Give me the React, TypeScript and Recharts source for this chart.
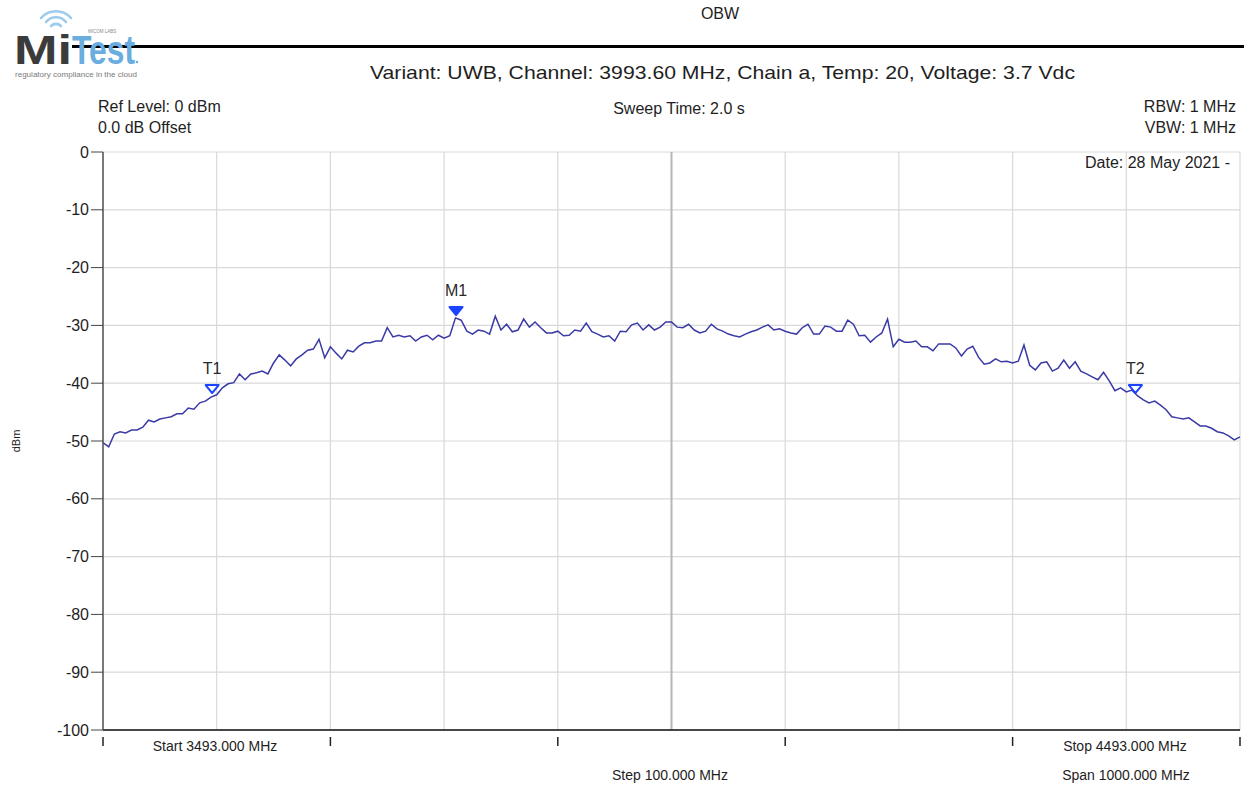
import { LineChart, Line, XAxis, YAxis, CartesianGrid, ReferenceLine, ReferenceDot } from 'recharts';

// sweep: 3493 MHz .. 4493 MHz, one reading every 5 MHz
const START_MHZ = 3493;
const STEP_MHZ = 5;

const LEVELS = [
  -50.3, -51.0, -48.8, -48.4, -48.6, -48.1, -48.1, -47.6, -46.4, -46.7,
  -46.2, -46.0, -45.8, -45.3, -45.3, -44.3, -44.5, -43.4, -43.1, -42.4,
  -42.0, -40.8, -40.1, -39.9, -38.4, -39.4, -38.4, -38.2, -37.9, -38.4,
  -36.5, -35.1, -36.0, -37.0, -35.8, -35.1, -34.3, -34.1, -32.4, -35.6,
  -33.7, -34.8, -35.8, -34.3, -34.6, -33.6, -33.0, -33.0, -32.7, -32.7,
  -30.4, -32.0, -31.7, -32.0, -31.8, -32.7, -32.0, -31.7, -32.5, -31.7,
  -32.2, -31.8, -28.7, -29.1, -31.0, -31.5, -30.8, -31.0, -31.5, -28.4,
  -30.8, -29.8, -31.1, -30.8, -28.9, -30.3, -29.4, -30.4, -31.3, -31.3,
  -31.0, -31.8, -31.7, -30.8, -31.0, -29.6, -31.1, -31.5, -32.0, -31.8,
  -32.7, -31.0, -31.1, -29.9, -29.6, -30.8, -29.9, -30.8, -30.3, -29.4,
  -29.4, -30.3, -30.4, -29.8, -30.8, -31.3, -31.0, -29.8, -30.6, -31.0,
  -31.5, -31.8, -32.0, -31.5, -31.1, -30.8, -30.3, -29.9, -30.8, -30.6,
  -31.0, -31.3, -31.5, -30.4, -29.8, -31.5, -31.5, -30.1, -30.3, -31.0,
  -31.0, -29.1, -29.8, -31.8, -31.7, -32.9, -32.0, -31.3, -28.9, -33.7,
  -32.4, -32.9, -32.9, -32.7, -33.7, -33.7, -34.4, -33.2, -33.2, -33.2,
  -33.9, -35.3, -34.1, -33.6, -35.5, -36.7, -36.5, -35.8, -36.3, -36.2,
  -36.5, -36.2, -33.4, -36.9, -37.7, -36.5, -36.3, -37.9, -37.4, -36.0,
  -37.4, -36.3, -37.9, -38.4, -38.9, -39.4, -38.1, -39.6, -41.3, -40.8,
  -41.5, -41.2, -42.2, -42.9, -43.4, -43.1, -43.8, -44.6, -45.8, -46.0,
  -46.2, -46.0, -46.7, -47.4, -47.4, -47.8, -48.4, -48.6, -49.1, -49.8,
  -49.3,
];

const GRID_FREQS = [3493, 3593, 3693, 3793, 3893, 3993, 4093, 4193, 4293, 4393, 4493];
const MAJOR_FREQS = [3493, 3693, 3893, 4093, 4293, 4493];
const Y_TICKS = [0, -10, -20, -30, -40, -50, -60, -70, -80, -90, -100];

const MARKER_NAMES = ['T1', 'M1', 'T2'];
const MARKER_FREQS = [3589, 3803.5, 4401];
const MARKER_LEVELS = [-41.7, -28.2, -41.7];
const MARKER_FILLED = [false, true, false];

const FONT = '"Liberation Sans", Arial, sans-serif';
const TRACE = '#3a3aa6';
const MARKER_BLUE = '#1a44ff';

const data = LEVELS.map((v, i) => ({ f: START_MHZ + i * STEP_MHZ, v }));

const XTick = (props: any) => {
  const { x, y, payload } = props;
  if (!MAJOR_FREQS.includes(payload.value)) return <g />;
  return <line x1={x} x2={x} y1={y - 1} y2={y + 8} stroke="#222" strokeWidth={1.5} />;
};

const markerShape = (name: string, filled: boolean) => (props: any) => {
  const { cx, cy } = props;
  if (cx === undefined || cy === undefined) return <g />;
  const w = 6.5;
  const h = 8;
  return (
    <g>
      <path
        d={`M${cx - w},${cy - h} L${cx + w},${cy - h} L${cx},${cy} Z`}
        fill={filled ? MARKER_BLUE : '#fff'}
        stroke={MARKER_BLUE}
        strokeWidth={2}
        strokeLinejoin="round"
      />
      <text x={cx} y={cy - h - 11} textAnchor="middle" fontFamily={FONT} fontSize={16} fill="#2a2a2a">
        {name}
      </text>
    </g>
  );
};

function Logo() {
  return (
    <g>
      <g fill="none" stroke="#9ccbec" strokeWidth={2.6} strokeLinecap="round">
        <path d="M51,26 A7,7 0 0 1 61,26" />
        <path d="M46,22 A13,13 0 0 1 66,22" />
        <path d="M41,18 A20,20 0 0 1 71,18" />
      </g>
      <text x={14} y={64} fontFamily={FONT} fontWeight="bold" fontSize={40} fill="#3b3b3b" textLength={58} lengthAdjust="spacingAndGlyphs">
        Mi
      </text>
      <text x={72} y={64} fontFamily={FONT} fontWeight="bold" fontSize={40} fill="#6aaedf" textLength={63} lengthAdjust="spacingAndGlyphs">
        Test
      </text>
      <circle cx={137} cy={62} r={1.2} fill="#6aaedf" />
      <text x={88} y={33} fontFamily={FONT} fontSize={4.5} fill="#8a8a8a">MICOM LABS</text>
      <text x={15} y={77} fontFamily={FONT} fontSize={8} fill="#7a7a7a" textLength={122} lengthAdjust="spacingAndGlyphs">
        regulatory compliance in the cloud
      </text>
    </g>
  );
}

export default function App() {
  return (
    <div style={{ position: 'absolute', left: 0, top: 0, width: 1244, height: 786, background: '#fff' }}>
      <svg width={1244} height={786} style={{ position: 'absolute', left: 0, top: 0 }}>
        <rect x={72} y={45} width={1172} height={3} fill="#000" />
      </svg>
      <div style={{ position: 'absolute', left: 0, top: 0 }}>
        <LineChart width={1244} height={786} data={data} margin={{ top: 152, right: 4, bottom: 26, left: 43 }}>
          <CartesianGrid stroke="#d9d9d9" strokeWidth={1.2} />
          <XAxis
            dataKey="f"
            type="number"
            domain={[3493, 4493]}
            ticks={GRID_FREQS}
            height={30}
            axisLine={{ stroke: '#111', strokeWidth: 1.5 }}
            tickLine={false}
            tick={<XTick />}
            interval={0}
          />
          <YAxis
            domain={[-100, 0]}
            ticks={Y_TICKS}
            width={60}
            interval={0}
            tickSize={12}
            tickMargin={2}
            axisLine={{ stroke: '#555', strokeWidth: 1.5 }}
            tickLine={{ stroke: '#444', strokeWidth: 1 }}
            tick={{ fontFamily: FONT, fontSize: 16, fill: '#1e1e1e' }}
          />
          <ReferenceLine x={3993} stroke="#b8b8b8" strokeWidth={2} />
          <Line type="linear" dataKey="v" stroke={TRACE} strokeWidth={1.5} dot={false} isAnimationActive={false} />
          {MARKER_NAMES.map((n, i) => (
            <ReferenceDot
              key={n}
              x={MARKER_FREQS[i]}
              y={MARKER_LEVELS[i]}
              r={6}
              shape={markerShape(n, MARKER_FILLED[i])}
            />
          ))}
        </LineChart>
      </div>
      <svg width={1244} height={786} style={{ position: 'absolute', left: 0, top: 0, pointerEvents: 'none' }}>
        <Logo />
        <g fontFamily={FONT} fill="#1e1e1e">
          <text x={720} y={19} fontSize={16} textAnchor="middle">OBW</text>
          <text x={370} y={79} fontSize={19} textLength={705} lengthAdjust="spacingAndGlyphs">
            Variant: UWB, Channel: 3993.60 MHz, Chain a, Temp: 20, Voltage: 3.7 Vdc
          </text>
          <text x={98} y={112} fontSize={16}>Ref Level: 0 dBm</text>
          <text x={98} y={133} fontSize={16}>0.0 dB Offset</text>
          <text x={679} y={114} fontSize={16} textAnchor="middle">Sweep Time: 2.0 s</text>
          <text x={1236} y={112} fontSize={16} textAnchor="end">RBW: 1 MHz</text>
          <text x={1236} y={133} fontSize={16} textAnchor="end">VBW: 1 MHz</text>
          <text x={1230} y={168} fontSize={16} textAnchor="end">Date: 28 May 2021 -</text>
          <text x={20} y={441} fontSize={11} textAnchor="middle" transform="rotate(-90 20 441)">dBm</text>
          <text x={215} y={751} fontSize={14} textAnchor="middle">Start 3493.000 MHz</text>
          <text x={1125} y={751} fontSize={14} textAnchor="middle">Stop 4493.000 MHz</text>
          <text x={670} y={780} fontSize={14} textAnchor="middle">Step 100.000 MHz</text>
          <text x={1126} y={780} fontSize={14} textAnchor="middle">Span 1000.000 MHz</text>
        </g>
      </svg>
    </div>
  );
}
